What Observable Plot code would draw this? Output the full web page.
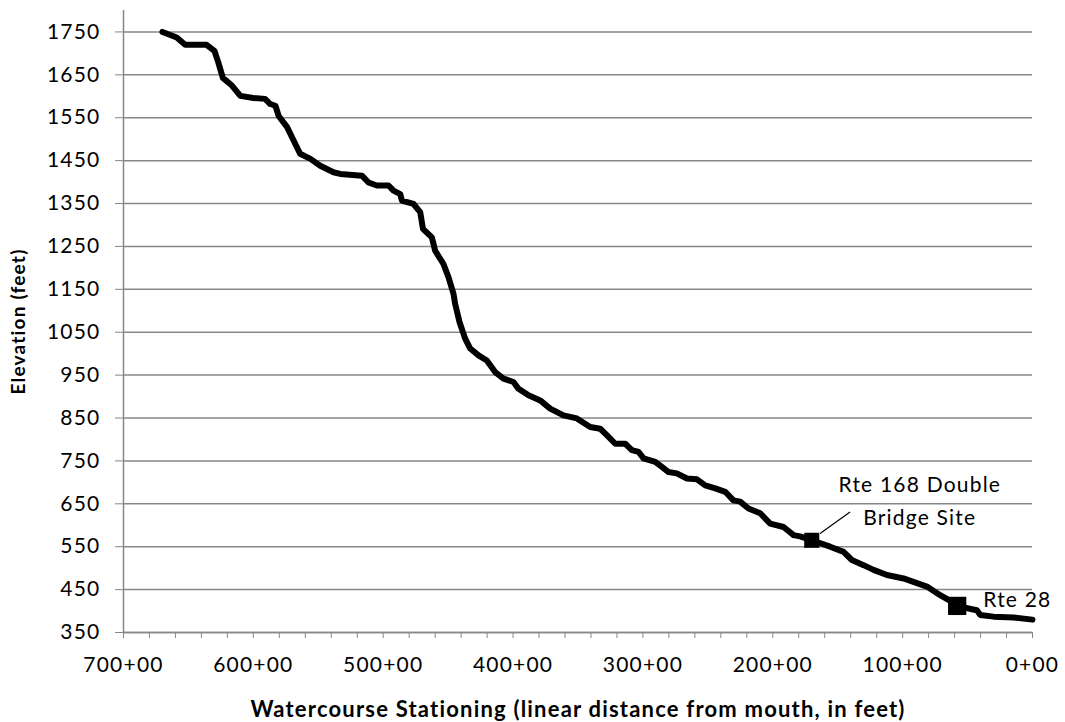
<!DOCTYPE html>
<html><head><meta charset="utf-8">
<script src="https://cdn.jsdelivr.net/npm/d3@7"></script>
<script src="https://cdn.jsdelivr.net/npm/@observablehq/plot@0.6"></script>
<style>body{margin:0;background:#fff;}</style>
</head><body><div id="chart"></div>
<script>
// Watercourse profile: stationing (feet from mouth) and elevation (feet)
const stationFt = [67000,65900,65250,63600,63000,62700,62350,61650,61000,60000,59100,58700,58300,58050,57400,56900,56400,55600,54850,53830,53310,51640,51130,50490,49590,49210,48690,48560,47670,47150,46940,46250,46000,45360,44970,44590,44460,44125,43690,43300,42660,42020,41380,40740,39970,39580,38810,37910,37140,36120,35090,34060,33290,32780,32130,31360,30850,30340,29950,29050,28540,28030,27390,26610,25840,25200,24430,23660,23030,22510,21870,20970,20200,19170,18400,17900,17000,15580,14550,13910,13010,12240,11210,9930,8900,8130,7110,6470,5820,4930,4280,4030,3000,1460,0];
const elevationFt = [1750,1737,1720,1720,1706,1679,1643,1625,1601,1596,1594,1582,1578,1554,1528,1497,1466,1454,1438,1423,1419,1415,1399,1392,1392,1380,1372,1357,1349,1330,1291,1271,1240,1209,1178,1140,1116,1074,1035,1012,996,984,957,942,934,918,903,891,872,856,849,829,825,810,790,790,775,771,756,748,736,724,721,709,707,693,686,678,658,655,639,628,604,596,577,574,565,550,538,519,507,496,484,476,465,457,437,426,412,406,402,391,387,385,380];

const yTicks = [350,450,550,650,750,850,950,1050,1150,1250,1350,1450,1550,1650,1750];
const xLabelTicks = [70000,60000,50000,40000,30000,20000,10000,0];
const xMinorTicks = [70000,68000,66000,64000,62000,60000,58000,56000,54000,52000,50000,48000,46000,44000,42000,40000,38000,36000,34000,32000,30000,28000,26000,24000,22000,20000,18000,16000,14000,12000,10000,8000,6000,4000,2000,0];

const markerNames = ["Rte 168 Double\nBridge Site", "Rte 28"];
const markerStation = [17000, 5800];
const markerElevation = [565, 412];

const xTitle = "Watercourse Stationing (linear distance from mouth, in feet)";
const yTitle = "Elevation (feet)";

const profile = stationFt.map((s, i) => ({station: s, elevation: elevationFt[i]}));
const markers = markerNames.map((n, i) => ({name: n, station: markerStation[i], elevation: markerElevation[i]}));
const bridge = [markers[0]];
const rte28 = [markers[1]];
const leader = [{x1: 16360, y1: 581, x2: 14050, y2: 631}];

const grey = "#878787";
const chart = Plot.plot({
  width: 1065,
  height: 722,
  marginLeft: 123,
  marginRight: 33,
  marginTop: 10,
  marginBottom: 90,
  style: {fontFamily: "Lato, 'Open Sans', sans-serif", fontSize: "21px", letterSpacing: "1.2px", color: "#000", background: "#fff"},
  x: {domain: [70000, 0], label: null},
  y: {domain: [350, 1800], label: null},
  marks: [
    Plot.gridY(yTicks, {stroke: grey, strokeOpacity: 1, strokeWidth: 1.5}),
    Plot.ruleX([70000], {stroke: grey, strokeWidth: 1.5}),
    Plot.ruleY([350], {stroke: grey, strokeWidth: 1.5}),
    Plot.axisY(yTicks, {tickSize: 8, tickPadding: 15, stroke: grey, fill: "#000", label: null, tickFormat: d => String(d)}),
    Plot.axisX(xMinorTicks, {tickSize: 6, stroke: grey, tickFormat: () => "", label: null}),
    Plot.axisX(xLabelTicks, {tickSize: 0, tickPadding: 25, fill: "#000", tickFormat: d => `${d / 100}+00`, label: null}),
    Plot.line(profile, {x: "station", y: "elevation", stroke: "#000", strokeWidth: 6, strokeLinejoin: "round", strokeLinecap: "round"}),
    Plot.dot(bridge, {x: "station", y: "elevation", symbol: "square", r: 8.5, fill: "#000"}),
    Plot.dot(rte28, {x: "station", y: "elevation", symbol: "square", r: 10.3, fill: "#000"}),
    Plot.link(leader, {x1: "x1", y1: "y1", x2: "x2", y2: "y2", stroke: "#000", strokeWidth: 1.2}),
    Plot.text(bridge, {x: "station", y: "elevation", text: "name", dx: 108, dy: -42, lineHeight: 1.55, fill: "#000"}),
    Plot.text(rte28, {x: "station", y: "elevation", text: "name", dx: 26, dy: -6, textAnchor: "start", fill: "#000"}),
    Plot.text([xTitle], {frameAnchor: "bottom", dy: 84, text: d => d, fontWeight: "bold", fill: "#000", fontSize: 22}),
    Plot.text([yTitle], {frameAnchor: "left", dx: -105, rotate: -90, textAnchor: "middle", text: d => d, fontWeight: "bold", fill: "#000", fontSize: 19})
  ]
});
document.getElementById("chart").append(chart);
</script>
</body></html>
